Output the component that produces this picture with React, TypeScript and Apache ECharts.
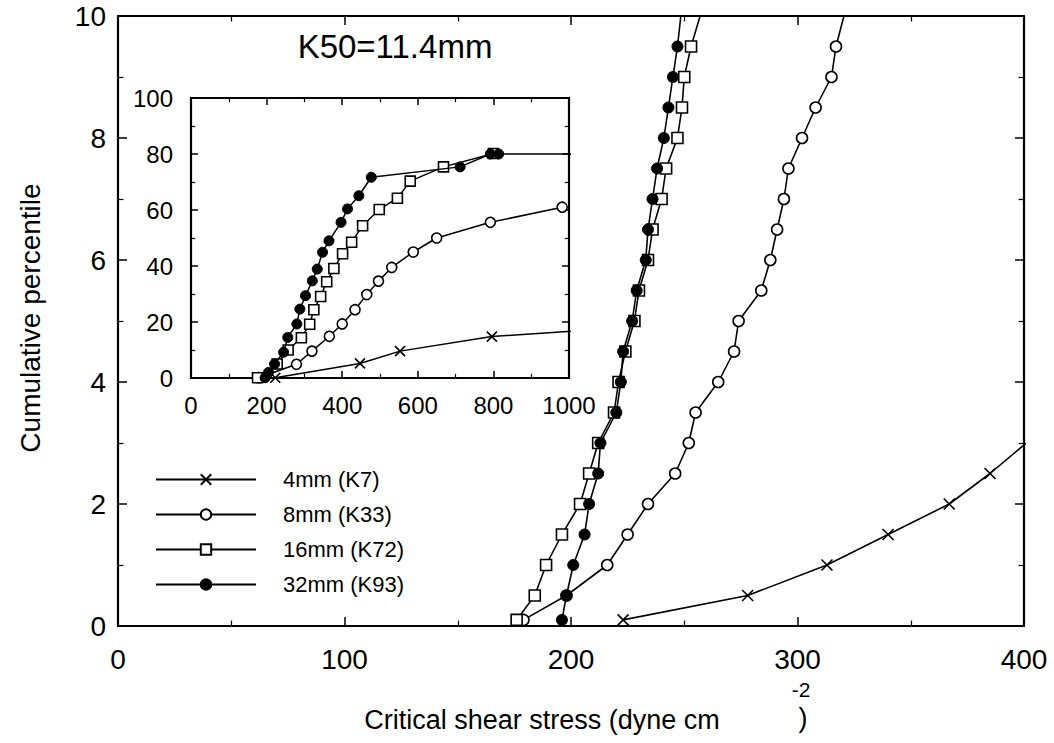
import React, { useEffect, useRef } from "react";
import * as echarts from "echarts";

// Percentile levels shared by the main-panel curves (0–10 %, last level lies above the frame)
const mainPct = [0.1, 0.5, 1, 1.5, 2, 2.5, 3, 3.5, 4, 4.5, 5, 5.5, 6, 6.5, 7, 7.5, 8, 8.5, 9, 9.5, 10.5];

// Critical shear stress (dyne cm^-2) at each percentile level
const k33MainStress = [179, 198, 216, 225, 234, 246, 252, 255, 265, 272, 274, 284, 288, 291, 294, 296, 302, 308, 315, 317, 324];
const k72MainStress = [176, 184, 189, 196, 204, 208, 212, 219, 221, 224, 228, 230, 234, 236, 240, 242, 247, 249, 250, 253, 261];
const k93MainStress = [196, 198, 201, 206, 208, 212, 213, 220, 222, 223, 227, 229, 233, 234, 236, 238, 241, 243, 245, 247, 250];

const k7MainPct = [0.1, 0.5, 1, 1.5, 2, 2.5, 3];
const k7MainStress = [223, 278, 313, 340, 367, 385, 401];

// Inset (full range): [stress, percentile]
const k7Inset = [[223, 0.1], [447, 5.2], [553, 9.6], [796, 14.8], [1080, 17.4]];
const k33Inset = [[179, 0.1], [279, 4.9], [320, 9.6], [366, 14.9], [400, 19.3], [434, 24.4], [465, 29.8], [496, 34.6], [531, 39.5], [588, 45], [650, 50], [792, 55.6], [982, 61]];
const k72Inset = [[176, 0.1], [228, 5], [257, 10], [292, 14.4], [314, 19.2], [325, 24.4], [343, 29.1], [359, 34.4], [378, 39.1], [401, 44.4], [425, 48.5], [454, 54.4], [498, 60.2], [546, 64.2], [580, 70.3], [668, 75.4], [800, 80.2]];
const k93Inset = [[196, 0.1], [205, 2], [221, 5], [245, 9.2], [256, 14.5], [280, 19.3], [288, 24.6], [303, 29.4], [321, 34.7], [334, 38.9], [348, 44.9], [365, 49], [397, 55.6], [414, 60.4], [444, 65.1], [477, 71.7], [712, 75.4], [792, 80], [814, 80], [1100, 80]];

const seriesNames = ["4mm (K7)", "8mm (K33)", "16mm (K72)", "32mm (K93)"];

const mainXTicks = { min: 0, max: 400, interval: 100 };
const mainYTicks = { min: 0, max: 10, interval: 2 };
const insetXTicks = { min: 0, max: 1000, interval: 200 };
const insetYTicks = { min: 0, max: 100, interval: 20 };

const FONT = '"Liberation Sans", Arial, sans-serif';
const crossSymbol = "path://M0,0L10,10M10,0L0,10";

const markerStyles = [
  { symbol: crossSymbol, itemStyle: { color: "#000", borderColor: "#000", borderWidth: 1.6 } },
  { symbol: "circle", itemStyle: { color: "#fff", borderColor: "#000", borderWidth: 1.6 } },
  { symbol: "rect", itemStyle: { color: "#fff", borderColor: "#000", borderWidth: 1.6 } },
  { symbol: "circle", itemStyle: { color: "#000", borderColor: "#000", borderWidth: 1 } },
];

function zip(xs: number[], ys: number[]) {
  return xs.map((x, i) => [x, ys[i]]);
}

function axisPair(
  gridIndex: number,
  dim: "x" | "y",
  ticks: { min: number; max: number; interval: number },
  labelSize: number,
  labelMargin: number,
  tickLen: number
) {
  const base = {
    gridIndex,
    type: "value",
    min: ticks.min,
    max: ticks.max,
    interval: ticks.interval,
    splitLine: { show: false },
    axisLine: { show: true, onZero: false, lineStyle: { color: "#000", width: 2.2 } },
    axisTick: { show: true, inside: true, length: tickLen, lineStyle: { color: "#000", width: 1.5 } },
    minorTick: { show: true, splitNumber: 2, length: tickLen * 0.6, lineStyle: { color: "#000", width: 1.2 } },
  };
  const first = {
    ...base,
    position: dim === "x" ? "bottom" : "left",
    axisLabel: {
      show: true,
      color: "#000",
      fontSize: labelSize,
      fontFamily: FONT,
      margin: labelMargin,
      formatter: (v: number) => String(v),
    },
  };
  const second = {
    ...base,
    position: dim === "x" ? "top" : "right",
    axisLabel: { show: false },
  };
  return [first, second];
}

export default function App() {
  const ref = useRef<HTMLDivElement>(null);

  useEffect(() => {
    if (!ref.current) return;
    const chart = echarts.init(ref.current, null, { renderer: "svg" });

    const mainData = [
      zip(k7MainStress, k7MainPct),
      zip(k33MainStress, mainPct),
      zip(k72MainStress, mainPct),
      zip(k93MainStress, mainPct),
    ];
    const insetData = [k7Inset, k33Inset, k72Inset, k93Inset];

    const series: any[] = [];
    seriesNames.forEach((name, i) => {
      series.push({
        name,
        type: "line",
        xAxisIndex: 0,
        yAxisIndex: 0,
        data: mainData[i],
        symbol: markerStyles[i].symbol,
        symbolSize: 11,
        showAllSymbol: true,
        clip: true,
        lineStyle: { color: "#000", width: 1.6 },
        itemStyle: markerStyles[i].itemStyle,
        z: 2 + i,
      });
    });
    seriesNames.forEach((name, i) => {
      series.push({
        name,
        type: "line",
        xAxisIndex: 2,
        yAxisIndex: 2,
        data: insetData[i],
        symbol: markerStyles[i].symbol,
        symbolSize: 10,
        showAllSymbol: true,
        clip: true,
        lineStyle: { color: "#000", width: 1.5 },
        itemStyle: markerStyles[i].itemStyle,
        z: 2 + i,
      });
    });

    const option: any = {
      animation: false,
      backgroundColor: "#fff",
      grid: [
        { left: 118, top: 16, right: 30, bottom: 117, containLabel: false },
        { left: 191, top: 98, right: 485, bottom: 365, containLabel: false, show: true, backgroundColor: "#fff", borderWidth: 0 },
      ],
      xAxis: [
        ...axisPair(0, "x", mainXTicks, 28, 19, 9),
        ...axisPair(1, "x", insetXTicks, 24, 15, 7),
      ],
      yAxis: [
        ...axisPair(0, "y", mainYTicks, 28, 12, 9),
        ...axisPair(1, "y", insetYTicks, 24, 18, 7),
      ],
      legend: {
        data: seriesNames,
        orient: "vertical",
        left: 150,
        top: 462,
        itemWidth: 100,
        itemHeight: 13,
        itemGap: 10,
        textStyle: { color: "#000", fontSize: 22, fontFamily: FONT, lineHeight: 25, padding: [0, 0, 0, 22] },
        selectedMode: false,
      },
      graphic: [
        {
          type: "text",
          x: 395,
          y: 46,
          style: { text: "K50=11.4mm", font: `33px ${FONT}`, fill: "#000", align: "center", verticalAlign: "middle" },
        },
        {
          type: "text",
          x: 30,
          y: 318,
          rotation: Math.PI / 2,
          style: { text: "Cumulative percentile", font: `28px ${FONT}`, fill: "#000", align: "center", verticalAlign: "middle" },
        },
        {
          type: "text",
          x: 542,
          y: 720,
          style: { text: "Critical shear stress (dyne cm", font: `27px ${FONT}`, fill: "#000", align: "center", verticalAlign: "middle" },
        },
        {
          type: "text",
          x: 801,
          y: 689,
          style: { text: "-2", font: `21px ${FONT}`, fill: "#000", align: "center", verticalAlign: "middle" },
        },
        {
          type: "text",
          x: 803,
          y: 718,
          style: { text: ")", font: `27px ${FONT}`, fill: "#000", align: "center", verticalAlign: "middle" },
        },
      ],
      series,
    };

    chart.setOption(option);
    return () => chart.dispose();
  }, []);

  return <div ref={ref} style={{ position: "fixed", left: 0, top: 0, width: 1054, height: 743 }} />;
}
